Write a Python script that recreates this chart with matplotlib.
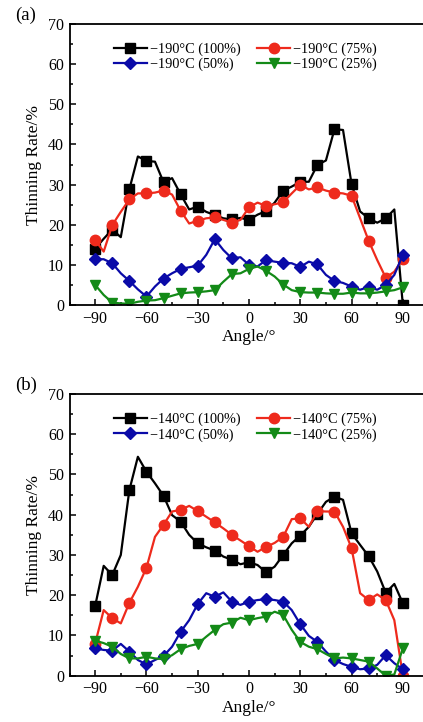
import numpy as np
import matplotlib
matplotlib.use('Agg')
import matplotlib.pyplot as plt
from matplotlib.ticker import MultipleLocator

plt.rcParams['font.family'] = ['Liberation Serif', 'DejaVu Serif']
plt.rcParams['axes.unicode_minus'] = True

angle = np.arange(-90, 91, 5)

# (a) -190 C
a100 = [14.0, 16.5, 18.8, 16.9, 28.8, 37.0, 35.9, 35.7, 30.6, 31.6, 27.6, 23.8, 24.5,
        23.2, 22.4, 21.6, 21.3, 21.7, 21.2, 22.5, 23.4, 25.5, 28.5, 29.5, 30.7, 30.7,
        34.9, 36.0, 43.8, 43.6, 30.1, 23.3, 21.6, 20.5, 21.6, 23.8, 0.0]
a75 = [16.2, 13.3, 19.9, 23.2, 26.3, 27.8, 27.8, 28.0, 28.5, 27.5, 23.5, 20.3, 21.0,
       21.6, 21.8, 21.2, 20.5, 21.2, 24.3, 25.5, 24.7, 25.1, 25.6, 27.8, 29.9, 28.8,
       29.3, 28.5, 28.0, 27.8, 27.2, 21.6, 16.0, 11.2, 6.8, 8.3, 11.5]
a50 = [11.4, 11.4, 10.4, 7.9, 6.0, 3.9, 2.1, 4.6, 6.6, 7.9, 9.0, 9.4, 9.8, 12.5, 16.4,
       13.7, 11.6, 11.9, 10.0, 9.6, 11.2, 10.8, 10.5, 10.4, 9.5, 10.8, 10.1, 7.5, 6.0,
       5.5, 4.6, 3.8, 4.5, 3.8, 5.0, 7.5, 12.5]
a25 = [5.0, 2.5, 0.6, 0.4, 0.3, 0.8, 1.1, 1.2, 1.7, 2.3, 2.9, 3.1, 3.2, 3.4, 3.7, 5.8,
       7.7, 7.9, 9.0, 9.6, 8.5, 7.1, 5.1, 3.7, 3.2, 3.1, 3.1, 2.9, 2.8, 2.8, 3.1, 2.9,
       2.9, 3.1, 3.4, 3.7, 4.4]

# (b) -140 C
b100 = [17.3, 27.3, 25.0, 30.0, 46.1, 54.4, 50.7, 47.8, 44.7, 39.9, 38.3, 35.0, 32.9,
        31.9, 31.1, 29.6, 28.8, 27.7, 28.2, 27.5, 25.7, 27.1, 30.0, 32.9, 34.8, 37.0,
        40.2, 43.2, 44.5, 43.7, 35.4, 32.5, 29.7, 25.9, 20.6, 22.8, 18.0]
b75 = [8.0, 16.3, 14.3, 13.0, 18.1, 22.1, 26.8, 34.5, 37.5, 40.8, 41.2, 42.2, 40.9,
       39.5, 38.1, 36.6, 35.0, 33.6, 32.2, 30.8, 32.0, 33.0, 34.5, 38.9, 39.1, 37.0,
       40.9, 40.8, 40.8, 37.0, 31.7, 20.5, 18.8, 20.2, 18.8, 13.8, 0.0]
b50 = [6.8, 6.4, 6.2, 7.9, 6.0, 3.9, 2.8, 3.9, 4.9, 7.2, 10.9, 13.8, 17.8, 20.5, 19.6,
       20.7, 18.4, 17.6, 18.4, 18.8, 19.0, 18.8, 18.4, 16.3, 12.8, 9.9, 8.4, 6.0, 3.9,
       2.9, 2.2, 1.6, 1.8, 2.7, 5.1, 3.1, 1.6]
b25 = [8.7, 8.1, 7.2, 5.4, 4.3, 4.3, 4.7, 4.3, 4.1, 5.1, 6.6, 7.4, 7.9, 9.7, 11.4, 12.8,
       13.2, 14.4, 13.8, 14.3, 14.7, 15.9, 15.1, 11.4, 8.4, 7.2, 6.6, 5.4, 4.3, 4.5,
       4.3, 3.9, 3.5, 1.8, 0.0, 0.3, 6.8]

pcts = ['100%', '75%', '50%', '25%']
colors = ['black', '#ee2a1c', '#0a0aa8', '#138a17']
markers = ['s', 'o', 'D', 'v']
msizes = [6.5, 7.5, 6.5, 7.5]

fig = plt.figure(figsize=(4.23, 7.22), dpi=100)
ax1 = fig.add_axes([69.5/423, 1-305/722, 359/423, 281/722])
ax2 = fig.add_axes([69.5/423, 1-675.7/722, 359/423, 281.7/722])


def panel(ax, series, temp, tag):
    lines = []
    for s, p, c, m, ms in zip(series, pcts, colors, markers, msizes):
        ln, = ax.plot(angle, s, color=c, lw=1.6, marker=m, ms=ms, markevery=2,
                      label='\u2212%d\u00b0C (%s)' % (temp, p))
        lines.append(ln)
    ax.set_xlim(-105, 105)
    ax.set_ylim(0, 70)
    ax.xaxis.set_major_locator(MultipleLocator(30))
    ax.xaxis.set_minor_locator(MultipleLocator(15))
    ax.yaxis.set_major_locator(MultipleLocator(10))
    ax.yaxis.set_minor_locator(MultipleLocator(5))
    ax.tick_params(which='both', direction='in', width=1.1, labelsize=11.5, pad=4)
    ax.tick_params(which='major', length=4.5)
    ax.tick_params(which='minor', length=2.5)
    for sp in ax.spines.values():
        sp.set_linewidth(1.3)
    ax.set_xlabel('Angle/\u00b0', fontsize=12.5, labelpad=2)
    ax.set_ylabel('Thinning Rate/%', fontsize=12.5, labelpad=4)
    # row-wise legend order: 100%, 75% / 50%, 25%
    order = [0, 2, 1, 3]
    ax.legend([lines[i] for i in order], [lines[i].get_label() for i in order],
              ncol=2, loc='upper center', bbox_to_anchor=(0.49, 0.955), frameon=False,
              fontsize=10.3, handlelength=2.3, handletextpad=0.2, columnspacing=1.2,
              labelspacing=0.15, borderaxespad=0)
    ax.text(-0.152, 1.03, tag, transform=ax.transAxes, fontsize=13.5, va='center', ha='left')


panel(ax1, [a100, a75, a50, a25], 190, '(a)')
panel(ax2, [b100, b75, b50, b25], 140, '(b)')

fig.savefig('out.png', dpi=100)
